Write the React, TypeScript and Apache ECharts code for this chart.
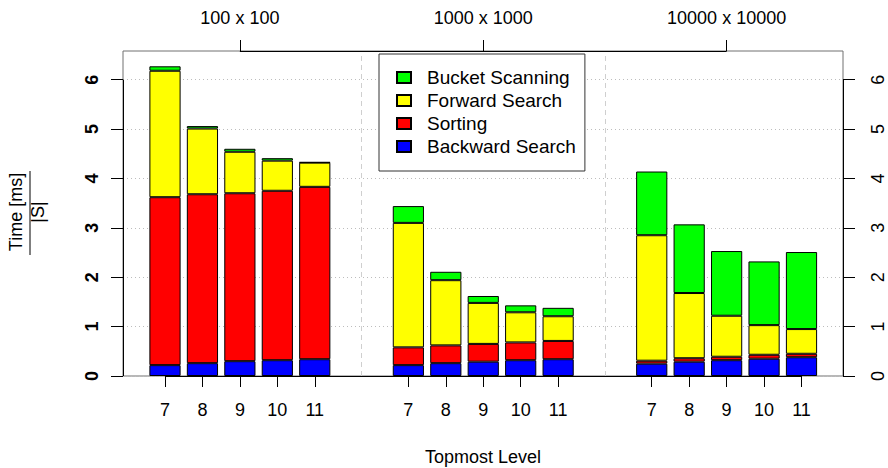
import React, { useEffect, useRef } from 'react';
import * as echarts from 'echarts';

// ---- data ----
const levels = ['7', '8', '9', '10', '11'];
const groupLabels = ['100 x 100', '1000 x 1000', '10000 x 10000'];
const seriesNames = ['Backward Search', 'Sorting', 'Forward Search', 'Bucket Scanning'];
const backwardSearch = [0.22, 0.26, 0.30, 0.32, 0.34, 0.22, 0.26, 0.29, 0.32, 0.34, 0.25, 0.29, 0.32, 0.35, 0.38];
const sorting = [3.40, 3.42, 3.40, 3.43, 3.49, 0.36, 0.36, 0.36, 0.36, 0.37, 0.06, 0.07, 0.07, 0.08, 0.07];
const forwardSearch = [2.56, 1.33, 0.84, 0.61, 0.49, 2.52, 1.32, 0.83, 0.61, 0.50, 2.54, 1.32, 0.83, 0.60, 0.50];
const bucketScanning = [0.09, 0.05, 0.06, 0.05, 0.01, 0.34, 0.17, 0.14, 0.14, 0.17, 1.29, 1.39, 1.31, 1.29, 1.56];
const yTicks = [0, 1, 2, 3, 4, 5, 6];

// ---- layout (barplot-like positions in bar-width units) ----
const FIRST = 0.7;
const BAR_STEP = 1.2;
const GROUP_STEP = 7.8;
const XMIN = -0.646;
const XMAX = 22.43;
const YMAX = 6.58;
const FONT = "'Liberation Sans', Arial, Helvetica, sans-serif";

const xs: number[] = [];
groupLabels.forEach((_, g) => levels.forEach((__, i) => xs.push(FIRST + g * GROUP_STEP + i * BAR_STEP)));
const groupCenters = groupLabels.map((_, g) => FIRST + g * GROUP_STEP + 2 * BAR_STEP);
const separators = [0, 1].map((g) => FIRST + g * GROUP_STEP + 4 * BAR_STEP + 0.5 + 1);

const colors: Record<string, string> = {
  'Backward Search': '#0000FF',
  Sorting: '#FF0000',
  'Forward Search': '#FFFF00',
  'Bucket Scanning': '#00FF00',
};
const values: Record<string, number[]> = {
  'Backward Search': backwardSearch,
  Sorting: sorting,
  'Forward Search': forwardSearch,
  'Bucket Scanning': bucketScanning,
};

const findIdx = (arr: number[], v: number) => arr.findIndex((x) => Math.abs(x - v) < 1e-6);

export default function App() {
  const ref = useRef<HTMLDivElement>(null);
  useEffect(() => {
    if (!ref.current) return;
    const chart = echarts.init(ref.current, undefined, { renderer: 'svg' });
    const black = { color: '#000', width: 1, type: 'solid' as const };
    const axisText = { fontSize: 18, fontFamily: FONT, color: '#000' };
    const yTop = yTicks[yTicks.length - 1];

    const series: any[] = seriesNames.map((name) => ({
      name,
      type: 'bar',
      stack: 'total',
      barWidth: 31.2,
      silent: true,
      xAxisIndex: 0,
      yAxisIndex: 0,
      // value first so that the stack is computed on the y dimension
      encode: { x: 1, y: 0 },
      itemStyle: { color: colors[name], borderColor: '#000', borderWidth: 1 },
      emphasis: { disabled: true },
      data: values[name].map((v, i) => [v, xs[i]]),
    }));

    // axis lines and group separators drawn through the axes' scales
    series.push({
      name: 'frame',
      type: 'line',
      xAxisIndex: 0,
      yAxisIndex: 0,
      silent: true,
      clip: false,
      data: [],
      markLine: {
        silent: true,
        symbol: ['none', 'none'],
        label: { show: false },
        emphasis: { disabled: true },
        data: [
          ...separators.map((s) => ({
            xAxis: s,
            lineStyle: { color: '#cfcfcf', width: 1, type: [5, 4] },
          })),
          [
            { coord: [XMIN, 0], lineStyle: black },
            { coord: [XMIN, yTop] },
          ],
          [
            { coord: [XMAX, 0], lineStyle: black },
            { coord: [XMAX, yTop] },
          ],
          [
            { coord: [xs[0], 0], lineStyle: black },
            { coord: [xs[xs.length - 1], 0] },
          ],
          [
            { coord: [groupCenters[0], YMAX], lineStyle: black },
            { coord: [groupCenters[groupCenters.length - 1], YMAX] },
          ],
        ],
      },
    });

    const noLine = { show: false, onZero: false };

    chart.setOption({
      animation: false,
      backgroundColor: '#fff',
      textStyle: { fontFamily: FONT },
      grid: {
        left: 123,
        right: 45,
        top: 51,
        bottom: 92,
        containLabel: false,
        outerBoundsMode: 'none',
        show: true,
        borderColor: '#707070',
        borderWidth: 1,
        backgroundColor: 'transparent',
      },
      legend: {
        orient: 'vertical',
        left: 379,
        top: 54,
        itemWidth: 14,
        itemHeight: 11,
        itemGap: 4,
        padding: [14, 9, 15, 17],
        borderColor: '#333',
        borderWidth: 1,
        backgroundColor: '#fff',
        icon: 'rect',
        selectedMode: false,
        textStyle: { fontSize: 19, fontFamily: FONT, color: '#000', padding: [0, 0, 0, 11] },
        data: [...seriesNames].reverse(),
      },
      xAxis: [
        {
          type: 'value',
          position: 'bottom',
          min: XMIN,
          max: XMAX,
          axisLine: noLine,
          splitLine: { show: false },
          axisTick: { show: true, length: 11, customValues: xs, lineStyle: { color: '#000' } },
          axisLabel: {
            customValues: xs,
            margin: 25,
            ...axisText,
            formatter: (v: number) => {
              const i = findIdx(xs, v);
              return i >= 0 ? levels[i % levels.length] : '';
            },
          },
          name: 'Topmost Level',
          nameLocation: 'middle',
          nameGap: 72,
          nameTextStyle: { ...axisText },
        },
        {
          type: 'value',
          position: 'top',
          min: XMIN,
          max: XMAX,
          axisLine: noLine,
          splitLine: { show: false },
          axisTick: { show: true, length: 11, customValues: groupCenters, lineStyle: { color: '#000' } },
          axisLabel: {
            customValues: groupCenters,
            margin: 24,
            ...axisText,
            formatter: (v: number) => {
              const i = findIdx(groupCenters, v);
              return i >= 0 ? groupLabels[i] : '';
            },
          },
        },
      ],
      yAxis: [
        {
          type: 'value',
          position: 'left',
          min: 0,
          max: YMAX,
          interval: 1,
          axisLine: noLine,
          axisTick: { show: true, length: 12, customValues: yTicks, lineStyle: { color: '#000' } },
          axisLabel: { customValues: yTicks, rotate: 90, margin: 22, ...axisText, fontWeight: 'bold' },
          splitLine: { show: true, lineStyle: { color: '#bdbdbd', width: 1, type: [1, 3] } },
        },
        {
          type: 'value',
          position: 'right',
          min: 0,
          max: YMAX,
          interval: 1,
          axisLine: noLine,
          axisTick: { show: true, length: 12, customValues: yTicks, lineStyle: { color: '#000' } },
          axisLabel: { customValues: yTicks, rotate: 90, margin: 26, ...axisText },
          splitLine: { show: false },
        },
      ],
      graphic: [
        {
          type: 'text',
          x: 16,
          y: 212,
          rotation: Math.PI / 2,
          style: {
            text: 'Time [ms]',
            fontSize: 18,
            fontFamily: FONT,
            fill: '#000',
            align: 'center',
            verticalAlign: 'middle',
          },
        },
        {
          type: 'line',
          shape: { x1: 30, y1: 171, x2: 30, y2: 255 },
          style: { stroke: '#000', lineWidth: 1 },
        },
        {
          type: 'text',
          x: 38,
          y: 212,
          rotation: Math.PI / 2,
          style: {
            text: '|S|',
            fontSize: 18,
            fontFamily: FONT,
            fill: '#000',
            align: 'center',
            verticalAlign: 'middle',
          },
        },
      ],
      series,
    });
    return () => chart.dispose();
  }, []);
  return (
    <div
      ref={ref}
      style={{ position: 'absolute', left: 0, top: 0, width: 888, height: 468, background: '#fff' }}
    />
  );
}
